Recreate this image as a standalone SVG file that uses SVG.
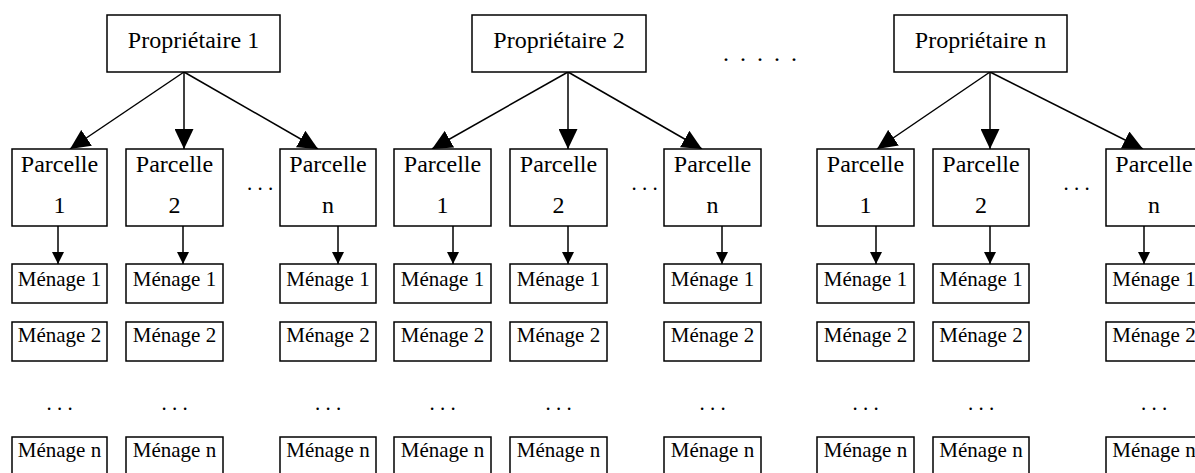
<svg xmlns="http://www.w3.org/2000/svg" width="1195" height="473" viewBox="0 0 1195 473">
<style>
.box{fill:#fff;stroke:#000;stroke-width:1.5}
.t{font-family:"Liberation Serif","Times New Roman",serif;fill:#000;text-anchor:middle}
.p{font-size:24px}
.m{font-size:21px}
.d{font-family:"Liberation Serif","Times New Roman",serif;fill:#000;text-anchor:middle;font-size:21px}
.c{stroke:#000;stroke-width:1.5;fill:none}
.big{marker-end:url(#ab)}
.sm{marker-end:url(#as)}
</style>
<defs>
<marker id="ab" markerUnits="userSpaceOnUse" markerWidth="20" markerHeight="19" refX="20" refY="9.5" orient="auto"><path d="M0,0 L20,9.5 L0,19 z" fill="#000"/></marker>
<marker id="as" markerUnits="userSpaceOnUse" markerWidth="12" markerHeight="12" refX="12" refY="6" orient="auto"><path d="M0,0 L12,6 L0,12 z" fill="#000"/></marker>
</defs>
<rect width="1195" height="473" fill="#fff"/>
<g id="connectors">
<path class="c big" d="M184,72 L70,149"/>
<path class="c big" d="M184,72 L184,149"/>
<path class="c big" d="M184,72 L318,149"/>
<path class="c big" d="M568,72 L432,149"/>
<path class="c big" d="M568,72 L568,149"/>
<path class="c big" d="M568,72 L702,149"/>
<path class="c big" d="M990,72 L877,149"/>
<path class="c big" d="M990,72 L990,149"/>
<path class="c big" d="M990,72 L1143,149"/>
<path class="c sm" d="M58,226 L58,264"/>
<path class="c sm" d="M183,226 L183,264"/>
<path class="c sm" d="M338,226 L338,264"/>
<path class="c sm" d="M453,226 L453,264"/>
<path class="c sm" d="M568,226 L568,264"/>
<path class="c sm" d="M722,226 L722,264"/>
<path class="c sm" d="M876,226 L876,264"/>
<path class="c sm" d="M990,226 L990,264"/>
<path class="c sm" d="M1144,226 L1144,264"/>
</g>
<g id="proprietaire-1"><rect class="box" x="107" y="15" width="173" height="57"/><text class="t p" x="193.5" y="48">Propriétaire 1</text></g>
<g id="proprietaire-2"><rect class="box" x="472" y="15" width="174" height="57"/><text class="t p" x="559" y="48">Propriétaire 2</text></g>
<g id="proprietaire-n"><rect class="box" x="894" y="15" width="173" height="57"/><text class="t p" x="980.5" y="48">Propriétaire n</text></g>
<text class="d" x="726" y="61" style="text-anchor:start;font-size:24px;letter-spacing:2.5px" transform="translate(-3,0)">. . . . .</text>

<g id="g1-parcelle-1"><rect class="box" x="12" y="149" width="95" height="77"/><text class="t p" x="59.5" y="172">Parcelle</text><text class="t p" x="59.5" y="213">1</text></g>
<g id="g1-parcelle-2"><rect class="box" x="126" y="149" width="97" height="77"/><text class="t p" x="174.5" y="172">Parcelle</text><text class="t p" x="174.5" y="213">2</text></g>
<g id="g1-parcelle-n"><rect class="box" x="280" y="149" width="96" height="77"/><text class="t p" x="328" y="172">Parcelle</text><text class="t p" x="328" y="213">n</text></g>
<g id="g2-parcelle-1"><rect class="box" x="394" y="149" width="97" height="77"/><text class="t p" x="442.5" y="172">Parcelle</text><text class="t p" x="442.5" y="213">1</text></g>
<g id="g2-parcelle-2"><rect class="box" x="510" y="149" width="97" height="77"/><text class="t p" x="558.5" y="172">Parcelle</text><text class="t p" x="558.5" y="213">2</text></g>
<g id="g2-parcelle-n"><rect class="box" x="664" y="149" width="97" height="77"/><text class="t p" x="712.5" y="172">Parcelle</text><text class="t p" x="712.5" y="213">n</text></g>
<g id="g3-parcelle-1"><rect class="box" x="817" y="149" width="97" height="77"/><text class="t p" x="865.5" y="172">Parcelle</text><text class="t p" x="865.5" y="213">1</text></g>
<g id="g3-parcelle-2"><rect class="box" x="933" y="149" width="96" height="77"/><text class="t p" x="981" y="172">Parcelle</text><text class="t p" x="981" y="213">2</text></g>
<g id="g3-parcelle-n"><rect class="box" x="1106" y="149" width="96" height="77"/><text class="t p" x="1154" y="172">Parcelle</text><text class="t p" x="1154" y="213">n</text></g>

<text class="d" x="260" y="190" font-size="22">. . .</text>
<text class="d" x="644.5" y="190" font-size="22">. . .</text>
<text class="d" x="1076.5" y="190" font-size="22">. . .</text>

<g id="g1-c1-menages">
<g id="g1-p1-menage-1"><rect class="box" x="12" y="264" width="95" height="39"/><text class="t m" x="59.5" y="286">Ménage 1</text></g>
<g id="g1-p1-menage-2"><rect class="box" x="12" y="322" width="95" height="39"/><text class="t m" x="59.5" y="342">Ménage 2</text></g>
<text class="d" x="59.5" y="410">. . .</text>
<g id="g1-p1-menage-n"><rect class="box" x="12" y="437" width="95" height="39"/><text class="t m" x="59.5" y="457">Ménage n</text></g>
</g>
<g id="g1-c2-menages">
<g id="g1-p2-menage-1"><rect class="box" x="126" y="264" width="97" height="39"/><text class="t m" x="174.5" y="286">Ménage 1</text></g>
<g id="g1-p2-menage-2"><rect class="box" x="126" y="322" width="97" height="39"/><text class="t m" x="174.5" y="342">Ménage 2</text></g>
<text class="d" x="174.5" y="410">. . .</text>
<g id="g1-p2-menage-n"><rect class="box" x="126" y="437" width="97" height="39"/><text class="t m" x="174.5" y="457">Ménage n</text></g>
</g>
<g id="g1-c3-menages">
<g id="g1-pn-menage-1"><rect class="box" x="280" y="264" width="96" height="39"/><text class="t m" x="328" y="286">Ménage 1</text></g>
<g id="g1-pn-menage-2"><rect class="box" x="280" y="322" width="96" height="39"/><text class="t m" x="328" y="342">Ménage 2</text></g>
<text class="d" x="328" y="410">. . .</text>
<g id="g1-pn-menage-n"><rect class="box" x="280" y="437" width="96" height="39"/><text class="t m" x="328" y="457">Ménage n</text></g>
</g>
<g id="g2-c1-menages">
<g id="g2-p1-menage-1"><rect class="box" x="394" y="264" width="97" height="39"/><text class="t m" x="442.5" y="286">Ménage 1</text></g>
<g id="g2-p1-menage-2"><rect class="box" x="394" y="322" width="97" height="39"/><text class="t m" x="442.5" y="342">Ménage 2</text></g>
<text class="d" x="442.5" y="410">. . .</text>
<g id="g2-p1-menage-n"><rect class="box" x="394" y="437" width="97" height="39"/><text class="t m" x="442.5" y="457">Ménage n</text></g>
</g>
<g id="g2-c2-menages">
<g id="g2-p2-menage-1"><rect class="box" x="510" y="264" width="97" height="39"/><text class="t m" x="558.5" y="286">Ménage 1</text></g>
<g id="g2-p2-menage-2"><rect class="box" x="510" y="322" width="97" height="39"/><text class="t m" x="558.5" y="342">Ménage 2</text></g>
<text class="d" x="558.5" y="410">. . .</text>
<g id="g2-p2-menage-n"><rect class="box" x="510" y="437" width="97" height="39"/><text class="t m" x="558.5" y="457">Ménage n</text></g>
</g>
<g id="g2-c3-menages">
<g id="g2-pn-menage-1"><rect class="box" x="664" y="264" width="97" height="39"/><text class="t m" x="712.5" y="286">Ménage 1</text></g>
<g id="g2-pn-menage-2"><rect class="box" x="664" y="322" width="97" height="39"/><text class="t m" x="712.5" y="342">Ménage 2</text></g>
<text class="d" x="712.5" y="410">. . .</text>
<g id="g2-pn-menage-n"><rect class="box" x="664" y="437" width="97" height="39"/><text class="t m" x="712.5" y="457">Ménage n</text></g>
</g>
<g id="g3-c1-menages">
<g id="g3-p1-menage-1"><rect class="box" x="817" y="264" width="97" height="39"/><text class="t m" x="865.5" y="286">Ménage 1</text></g>
<g id="g3-p1-menage-2"><rect class="box" x="817" y="322" width="97" height="39"/><text class="t m" x="865.5" y="342">Ménage 2</text></g>
<text class="d" x="865.5" y="410">. . .</text>
<g id="g3-p1-menage-n"><rect class="box" x="817" y="437" width="97" height="39"/><text class="t m" x="865.5" y="457">Ménage n</text></g>
</g>
<g id="g3-c2-menages">
<g id="g3-p2-menage-1"><rect class="box" x="933" y="264" width="96" height="39"/><text class="t m" x="981" y="286">Ménage 1</text></g>
<g id="g3-p2-menage-2"><rect class="box" x="933" y="322" width="96" height="39"/><text class="t m" x="981" y="342">Ménage 2</text></g>
<text class="d" x="981" y="410">. . .</text>
<g id="g3-p2-menage-n"><rect class="box" x="933" y="437" width="96" height="39"/><text class="t m" x="981" y="457">Ménage n</text></g>
</g>
<g id="g3-c3-menages">
<g id="g3-pn-menage-1"><rect class="box" x="1106" y="264" width="96" height="39"/><text class="t m" x="1154" y="286">Ménage 1</text></g>
<g id="g3-pn-menage-2"><rect class="box" x="1106" y="322" width="96" height="39"/><text class="t m" x="1154" y="342">Ménage 2</text></g>
<text class="d" x="1154" y="410">. . .</text>
<g id="g3-pn-menage-n"><rect class="box" x="1106" y="437" width="96" height="39"/><text class="t m" x="1154" y="457">Ménage n</text></g>
</g>
</svg>
